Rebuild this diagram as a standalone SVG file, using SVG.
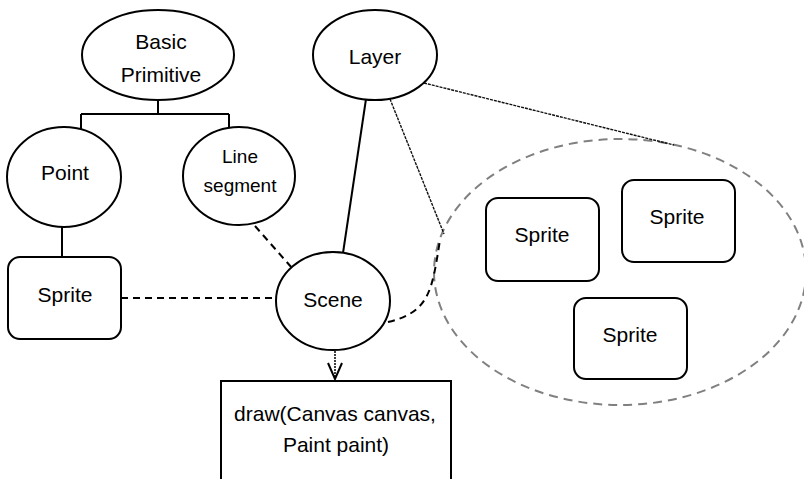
<svg xmlns="http://www.w3.org/2000/svg" width="804" height="479" viewBox="0 0 804 479">
  <style>
    .node { fill: #ffffff; stroke: #000000; stroke-width: 2; }
    .lbl { font-family: "Liberation Sans", Arial, sans-serif; font-size: 21px; fill: #000000; text-anchor: middle; }
    .small { font-size: 19px; }
    .solid { fill: none; stroke: #000000; stroke-width: 2; }
    .thin { fill: none; stroke: #111111; stroke-width: 1.4; stroke-dasharray: 3 1; }
    .dash { fill: none; stroke: #000000; stroke-width: 2; stroke-dasharray: 7 5; }
    .group { fill: none; stroke: #808080; stroke-width: 2; stroke-dasharray: 9 6; }
    .dots { fill: none; stroke: #000000; stroke-width: 1.5; stroke-dasharray: 2 1; }
  </style>
  <defs>
    <marker id="vhead" viewBox="-17 -8 18 16" refX="0" refY="0" markerWidth="18" markerHeight="16" markerUnits="userSpaceOnUse" orient="auto">
      <path d="M-16,-7 L0,0 L-16,7" fill="none" stroke="#000000" stroke-width="2"/>
    </marker>
  </defs>
  <rect width="804" height="479" fill="#ffffff"/>

  <g id="layer-group">
    <ellipse class="group" cx="620" cy="272" rx="186" ry="133"/>
  </g>

  <g id="connectors">
    <path class="solid" d="M158,99 L158,114 M81,114 L229,114 M81,114 L81,129 M229,114 L229,128"/>
    <path class="solid" d="M62,227 L62,257"/>
    <path class="solid" d="M366,99 L343,253"/>
    <path class="thin" d="M390,99 L444,234"/>
    <path class="thin" d="M424,83 L674,145"/>
    <path class="dash" d="M255,226 L292,268"/>
    <path class="dash" d="M121,298 L277,298"/>
    <path class="dash" d="M388,322 C430,312 432,290 440,240"/>
    <path class="dots" d="M335,351 L335,379" marker-end="url(#vhead)"/>
  </g>

  <g id="basic-primitive">
    <ellipse class="node" cx="158" cy="55" rx="76" ry="45"/>
    <text class="lbl" x="161" y="49">Basic</text>
    <text class="lbl" x="161" y="82">Primitive</text>
  </g>

  <g id="point">
    <ellipse class="node" cx="64" cy="177" rx="57" ry="50"/>
    <text class="lbl" x="65" y="180">Point</text>
  </g>

  <g id="line-segment">
    <ellipse class="node" cx="239" cy="176" rx="56" ry="49"/>
    <text class="lbl small" x="240" y="163">Line</text>
    <text class="lbl small" x="240" y="192">segment</text>
  </g>

  <g id="layer">
    <ellipse class="node" cx="375" cy="55" rx="62" ry="45"/>
    <text class="lbl" x="375" y="64">Layer</text>
  </g>

  <g id="sprite-left">
    <rect class="node" x="8" y="257" width="113" height="82" rx="12"/>
    <text class="lbl" x="65" y="302">Sprite</text>
  </g>

  <g id="scene">
    <ellipse class="node" cx="333" cy="301" rx="57" ry="49"/>
    <text class="lbl" x="333" y="307">Scene</text>
  </g>

  <g id="sprite-a">
    <rect class="node" x="486" y="198" width="113" height="83" rx="12"/>
    <text class="lbl" x="542" y="242">Sprite</text>
  </g>

  <g id="sprite-b">
    <rect class="node" x="622" y="180" width="113" height="82" rx="12"/>
    <text class="lbl" x="677" y="224">Sprite</text>
  </g>

  <g id="sprite-c">
    <rect class="node" x="574" y="298" width="113" height="81" rx="12"/>
    <text class="lbl" x="630" y="342">Sprite</text>
  </g>

  <g id="draw">
    <rect class="node" x="221" y="381" width="230" height="110"/>
    <text class="lbl" x="335" y="421">draw(Canvas canvas,</text>
    <text class="lbl" x="336" y="452">Paint paint)</text>
  </g>
</svg>
